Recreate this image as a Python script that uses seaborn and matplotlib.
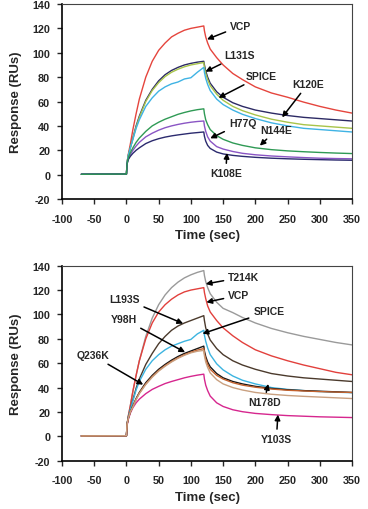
import pandas as pd
import matplotlib
matplotlib.use("Agg")
import matplotlib.pyplot as plt
import seaborn as sns

sns.set_style("ticks")
plt.rcParams['font.family'] = ['Liberation Sans', 'DejaVu Sans']
plt.rcParams['font.weight'] = 'bold'
plt.rcParams['axes.unicode_minus'] = False

# shared time axis (sec)
time = [-70, -1, 0, 1, 3, 6, 10, 15, 20, 30, 40, 50, 60, 70, 80, 90, 100, 110, 120,
        121, 123, 126, 130, 140, 150, 165, 180, 200, 225, 250, 275, 300, 325, 350]

# ---- top panel ----
vcp_a = [0.3, 0.5, 0.5, 10, 17, 25, 37, 50, 62, 80, 93, 102, 108, 113, 116, 118.5, 120, 121, 122,
         118, 113, 108, 103, 96, 90, 83, 78, 72, 67, 63.5, 59.5, 56, 53, 50.5]
l131s = [0.3, 0.5, 0.5, 10, 16, 22, 30, 40, 48, 61, 70, 77, 82, 85.5, 88, 90, 91.3, 92.3, 93,
         90, 85, 80, 75, 68, 63.5, 59, 56, 53, 50.5, 48.5, 47, 46, 45, 44]
k120e = [0.3, 0.5, 0.5, 10, 16, 22, 29.5, 39, 47, 60, 69, 75.5, 80.5, 84, 86.5, 88.5, 90, 91, 92,
         88, 83, 78, 73, 66, 61, 56, 52.5, 49, 45.5, 43, 41, 40, 39, 38]
spice_a = [0.3, 0.5, 0.5, 10, 16, 22, 29, 38, 45, 56, 63, 68.5, 72, 74.5, 76, 78.5, 79.5, 84, 88,
           84, 79, 74, 69, 62, 57.5, 53, 49.5, 46, 42.5, 40, 38, 37, 36, 35]
n144e = [0.3, 0.5, 0.5, 9, 14, 18, 22, 26.5, 30, 35.5, 40, 43, 45.5, 47.5, 49.5, 51, 52.3, 53.3, 54,
         50, 45, 41, 37, 32, 29, 26, 24, 22, 20.5, 19.5, 18.8, 18.2, 17.7, 17.3]
h77q = [0.3, 0.5, 0.5, 9, 13, 16.5, 20, 23.5, 26.5, 31, 34, 36.5, 38.5, 40, 41.2, 42.2, 43, 43.6, 44,
        40, 35.5, 31, 27.5, 23, 21, 19, 17.5, 16.3, 15.3, 14.6, 14, 13.5, 13.2, 13]
k108e = [0.3, 0.5, 0.5, 9, 12.5, 15, 17.5, 20, 22, 25.5, 27.8, 29.5, 30.8, 31.8, 32.6, 33.3, 34, 34.5, 35,
         31.5, 27.5, 24, 21.5, 18.5, 17, 15.8, 15, 14.2, 13.5, 13, 12.6, 12.3, 12, 11.8]

# ---- bottom panel ----
t214k = [0.3, 0.5, 0.5, 10, 17, 25, 37, 50, 62, 82, 97, 108, 116, 122, 126.5, 130, 132.5, 134.5, 136,
         132, 127, 122, 117, 110, 105, 101.5, 97.5, 93, 88.5, 85, 82, 79.5, 77, 75]
vcp_b = [0.3, 0.5, 0.5, 10, 17, 25, 37, 50, 62, 80, 93, 102, 108, 112.5, 116, 118.5, 120, 121, 122,
         118, 113, 107, 102, 95, 89, 82.5, 77, 71, 66, 62, 58.5, 55.5, 52.5, 50.5]
l193s = [0.3, 0.5, 0.5, 10, 16, 22, 30, 39.5, 47, 59, 68, 76, 82, 87, 90.5, 93, 95, 97, 99,
         95, 89, 84, 79, 72, 67, 62, 58.5, 55, 51.5, 49.5, 48, 47, 46, 45]
spice_b = [0.3, 0.5, 0.5, 10, 16, 22, 29, 38, 45, 55, 62, 67, 71, 74, 76, 78, 79.5, 84, 87,
           83, 78, 72.5, 67, 59.5, 54.5, 49.5, 46, 43, 40, 38.5, 37.5, 36.7, 36.2, 35.8]
y98h = [0.3, 0.5, 0.5, 10, 15, 20, 25, 31, 36, 44, 50, 55, 59, 62.5, 65.5, 68, 70, 72, 74,
        70, 65.5, 61, 57, 51.5, 48, 45, 43, 41, 39.3, 38.2, 37.5, 37, 36.5, 36]
n178d = [0.3, 0.5, 0.5, 10, 15, 20, 24.5, 30.5, 35.5, 43, 49, 54, 58, 61.5, 64.5, 67, 69, 70.7, 72,
         68, 63.5, 59, 55, 50, 47, 44, 42, 40.3, 38.8, 37.8, 37.2, 36.7, 36.3, 36]
q236k = [0.3, 0.5, 0.5, 10, 15, 20, 24, 30, 35, 42.5, 48.5, 53.5, 57.5, 61, 64, 66.5, 68.5, 69.8, 70.5,
         66, 61, 56.5, 52, 46.5, 43, 40, 38, 36, 34.5, 33.5, 32.8, 32.2, 31.6, 31]
y103s = [0.3, 0.5, 0.5, 9, 14, 19, 23.5, 27.5, 30.5, 35, 38.5, 41, 43.3, 45, 46.5, 48, 49.2, 50.2, 51,
         47, 42, 37.5, 33, 27.5, 24.5, 21.8, 20.2, 18.8, 17.8, 17, 16.5, 16, 15.7, 15.4]

top_curves = {
    "VCP": (vcp_a, "#e5453d"),
    "L131S": (l131s, "#2c2a64"),
    "K120E": (k120e, "#a8c44a"),
    "SPICE": (spice_a, "#3fb3e4"),
    "H77Q": (h77q, "#8a55c4"),
    "K108E": (k108e, "#2b2a6e"),
    "N144E": (n144e, "#2f9a55"),
}
bottom_curves = {
    "T214K": (t214k, "#9a9a9a"),
    "VCP": (vcp_b, "#e2403c"),
    "L193S": (l193s, "#4b3a2c"),
    "SPICE": (spice_b, "#3cb4e0"),
    "Y103S": (y103s, "#d6268e"),
    "Y98H": (y98h, "#161616"),
    "N178D": (n178d, "#c4622e"),
    "Q236K": (q236k, "#c9a080"),
}

# label text, arrow tip (t, v), text anchor (t, v), horizontal alignment
top_labels = [
    ("VCP", (125, 111), (161, 122), "left"),
    ("L131S", (122.6, 84.5), (151, 98), "left"),
    ("SPICE", (143, 63), (185, 81), "left"),
    ("K120E", (241.6, 47), (257, 74.4), "left"),
    ("H77Q", (130, 29.8), (159, 42.4), "left"),
    ("N144E", (207, 23.8), (208, 36.7), "left"),
    ("K108E", (156, 17.8), (154, 1.4), "center"),
]
bottom_labels = [
    ("T214K", (123, 125), (158, 130.7), "left"),
    ("VCP", (124, 110), (158, 115.7), "left"),
    ("L193S", (88, 92.5), (-3.5, 113), "center"),
    ("SPICE", (118, 84.2), (197, 102.6), "left"),
    ("Y98H", (91, 69), (-3.5, 96), "center"),
    ("Q236K", (26, 42.4), (-52.6, 66.5), "center"),
    ("N178D", (220, 43), (213.6, 28.2), "center"),
    ("Y103S", (235, 17.8), (232.7, -2), "center"),
]


def draw_panel(ax, curves, labels):
    rows = []
    for name, (vals, _) in curves.items():
        for t, v in zip(time, vals):
            rows.append({"time": t, "response": v, "curve": name})
    df = pd.DataFrame(rows)
    palette = {name: c for name, (_, c) in curves.items()}
    sns.lineplot(data=df, x="time", y="response", hue="curve", hue_order=list(curves),
                 palette=palette, estimator=None, sort=False, linewidth=1.0,
                 legend=False, ax=ax)

    for text, tip, pos, ha in labels:
        ax.annotate(text, xy=tip, xytext=pos, ha=ha, va="center",
                    fontsize=7.5, fontweight="bold",
                    arrowprops=dict(arrowstyle="-|>", color="black", lw=1.1,
                                    mutation_scale=8, shrinkA=1, shrinkB=0))

    ax.set_xlim(-100, 350)
    ax.set_ylim(-20, 140)
    ax.set_xticks(range(-100, 351, 50))
    ax.set_yticks(range(-20, 141, 20))
    ax.set_xlabel("Time (sec)", fontsize=9.5, fontweight="bold", labelpad=4)
    ax.set_ylabel("Response (RUs)", fontsize=9.5, fontweight="bold", labelpad=7)
    ax.tick_params(axis="x", length=3.5, width=1, pad=7, labelsize=7.8)
    ax.tick_params(axis="y", length=3.5, width=1, pad=5, labelsize=7.8)
    for lbl in ax.get_xticklabels() + ax.get_yticklabels():
        lbl.set_fontweight("bold")
    for side in ("left", "bottom"):
        ax.spines[side].set_linewidth(1.2)
        ax.spines[side].set_color("black")
    for side in ("top", "right"):
        ax.spines[side].set_visible(True)
        ax.spines[side].set_linewidth(0.8)
        ax.spines[side].set_color("#444444")


fig = plt.figure(figsize=(3.68, 5.10), dpi=100)
ax1 = fig.add_axes([0.1685, 0.6078, 0.788, 0.3824])
ax2 = fig.add_axes([0.1685, 0.0947, 0.788, 0.3824])

draw_panel(ax1, top_curves, top_labels)
draw_panel(ax2, bottom_curves, bottom_labels)

fig.savefig("out.png", dpi=100)
